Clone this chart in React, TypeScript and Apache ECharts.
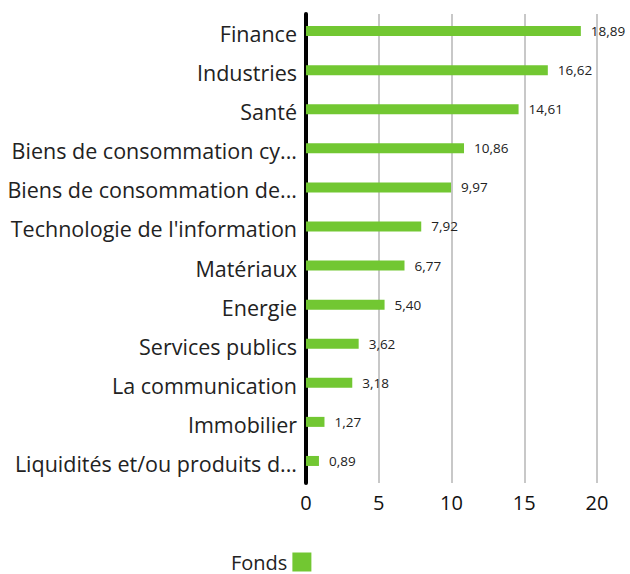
import React, { useEffect, useRef } from "react";
import * as echarts from "echarts";

const categories = [
  "Finance",
  "Industries",
  "Santé",
  "Biens de consommation cyclique",
  "Biens de consommation de base",
  "Technologie de l'information",
  "Matériaux",
  "Energie",
  "Services publics",
  "La communication",
  "Immobilier",
  "Liquidités et/ou produits dérivés",
];
const fondsValues = [18.89, 16.62, 14.61, 10.86, 9.97, 7.92, 6.77, 5.4, 3.62, 3.18, 1.27, 0.89];
const seriesName = "Fonds";
const xTicks = { min: 0, max: 20, interval: 5 };

export default function App() {
  const ref = useRef<HTMLDivElement>(null);
  useEffect(() => {
    if (!ref.current) return;
    const chart = echarts.init(ref.current, undefined, { renderer: "svg" });
    const font = "'Open Sans', 'Noto Sans', sans-serif";
    chart.setOption({
      animation: false,
      textStyle: { fontFamily: font },
      grid: { left: 306, right: 33, top: 14, bottom: 91, containLabel: false },
      legend: {
        top: 552,
        left: 231,
        padding: 0,
        data: [seriesName],
        align: "right",
        icon: "rect",
        itemWidth: 19,
        itemHeight: 19,
        itemGap: 8,
        textStyle: { fontSize: 20, color: "#222", fontFamily: font },
      },
      xAxis: {
        type: "value",
        min: xTicks.min,
        max: xTicks.max,
        interval: xTicks.interval,
        axisLine: { show: false },
        axisTick: { show: false },
        axisLabel: { fontSize: 20, color: "#111", margin: 9, fontFamily: font },
        splitLine: { lineStyle: { color: "#c8c8c8", width: 2 } },
      },
      yAxis: {
        type: "category",
        inverse: true,
        data: categories,
        axisLine: { show: true, lineStyle: { color: "#000", width: 4 } },
        axisTick: { show: false },
        axisLabel: {
          fontSize: 21.5,
          color: "#222",
          margin: 9,
          width: 292,
          overflow: "truncate",
          ellipsis: "...",
          fontFamily: font,
        },
      },
      series: [
        {
          name: seriesName,
          type: "bar",
          data: fondsValues,
          barWidth: 10,
          barGap: "-50%",
          itemStyle: { color: "#72c732" },
          label: {
            show: true,
            position: "right",
            distance: 10,
            fontSize: 13.5,
            color: "#222",
            fontFamily: font,
            formatter: (p: any) => Number(p.value).toFixed(2).replace(".", ","),
          },
        },
        {
          name: "spacer",
          type: "bar",
          data: [],
          barWidth: 10,
          silent: true,
        },
      ],
    });
    return () => chart.dispose();
  }, []);
  return (
    <div
      ref={ref}
      style={{ position: "absolute", left: 0, top: 0, width: 630, height: 574 }}
    />
  );
}
